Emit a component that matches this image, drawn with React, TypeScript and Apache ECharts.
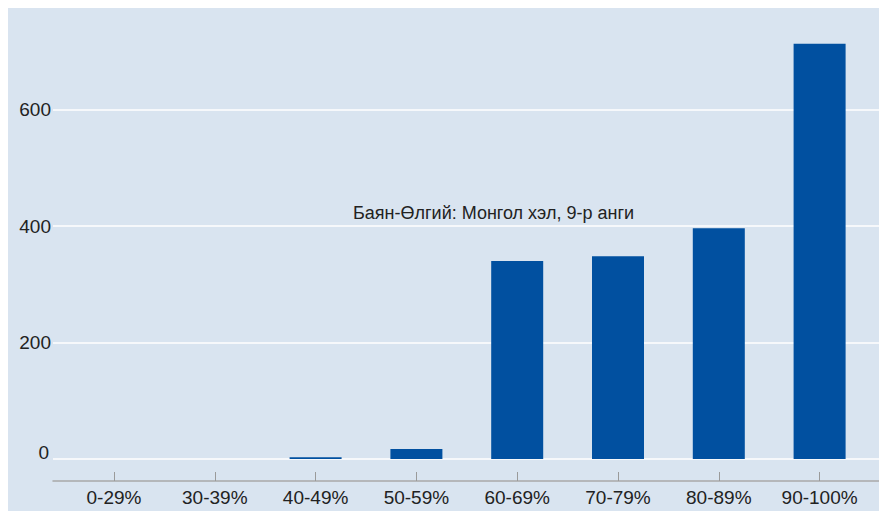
import React, { useEffect, useRef } from "react";
import * as echarts from "echarts";

const categories = ["0-29%", "30-39%", "40-49%", "50-59%", "60-69%", "70-79%", "80-89%", "90-100%"];
const values = [0, 0, 3, 17, 340, 348, 396, 713];
const yTicks = { min: 0, max: 800, interval: 200 };
const chartTitle = "Баян-Өлгий: Монгол хэл, 9-р анги";

const FONT = "'Liberation Sans', Arial, sans-serif";
const SHIFT = 15;

export default function App() {
  const ref = useRef<HTMLDivElement>(null);
  useEffect(() => {
    if (!ref.current) return;
    const chart = echarts.init(ref.current, undefined, { renderer: "svg" });
    chart.setOption({
      animation: false,
      textStyle: { fontFamily: FONT },
      grid: [
        { left: 45, right: 7, top: 0, bottom: 52 },
        { left: 55.6, right: 17, top: 0, bottom: 52 },
      ],
      xAxis: [
        {
          type: "category",
          gridIndex: 0,
          data: categories,
          offset: 22,
          axisLine: { show: true, onZero: false, lineStyle: { color: "#a8a8a8", width: 1.5 } },
          axisTick: { show: false },
          axisLabel: { show: false },
          splitLine: { show: false },
        },
        {
          type: "category",
          gridIndex: 1,
          data: categories,
          offset: 22,
          axisLine: { show: false, onZero: false },
          axisTick: {
            show: true,
            inside: true,
            alignWithLabel: true,
            length: 9,
            lineStyle: { color: "#9a9a9a", width: 1 },
          },
          axisLabel: {
            show: true,
            margin: 7,
            color: "#222",
            fontSize: 19,
            fontFamily: FONT,
          },
        },
      ],
      yAxis: [
        {
          type: "value",
          gridIndex: 0,
          min: yTicks.min,
          max: yTicks.max,
          interval: yTicks.interval,
          axisLine: { show: false },
          axisTick: { show: false },
          splitLine: { show: true, lineStyle: { color: "#ffffff", width: 1.5 } },
          axisLabel: {
            margin: 2,
            color: "#222",
            fontSize: 19,
            fontFamily: FONT,
            showMaxLabel: false,
            formatter: (v: number) => (v === 0 ? "{z|0}" : String(v)),
            rich: {
              z: { fontSize: 19, fontFamily: FONT, color: "#222", padding: [0, 2, 13, 0] },
            },
          },
        },
        {
          type: "value",
          gridIndex: 1,
          min: yTicks.min,
          max: yTicks.max,
          interval: yTicks.interval,
          show: false,
          splitLine: { show: false },
        },
      ],
      graphic: [
        {
          type: "rect",
          z: -10,
          silent: true,
          shape: { x: 0, y: SHIFT, width: 879, height: 518 - SHIFT },
          style: { fill: "#d9e4f0" },
        },
        {
          type: "text",
          x: 485.5,
          y: 205 + SHIFT,
          style: {
            text: chartTitle,
            fontSize: 18,
            fontFamily: FONT,
            fill: "#222",
            align: "center",
            verticalAlign: "middle",
          },
        },
      ],
      series: [
        {
          type: "bar",
          xAxisIndex: 1,
          yAxisIndex: 1,
          data: values,
          barWidth: 52,
          itemStyle: { color: "#0150a0" },
        },
      ],
    });
    return () => chart.dispose();
  }, []);
  return (
    <div
      ref={ref}
      style={{ width: 879, height: 518, position: "relative", top: -SHIFT }}
    />
  );
}
